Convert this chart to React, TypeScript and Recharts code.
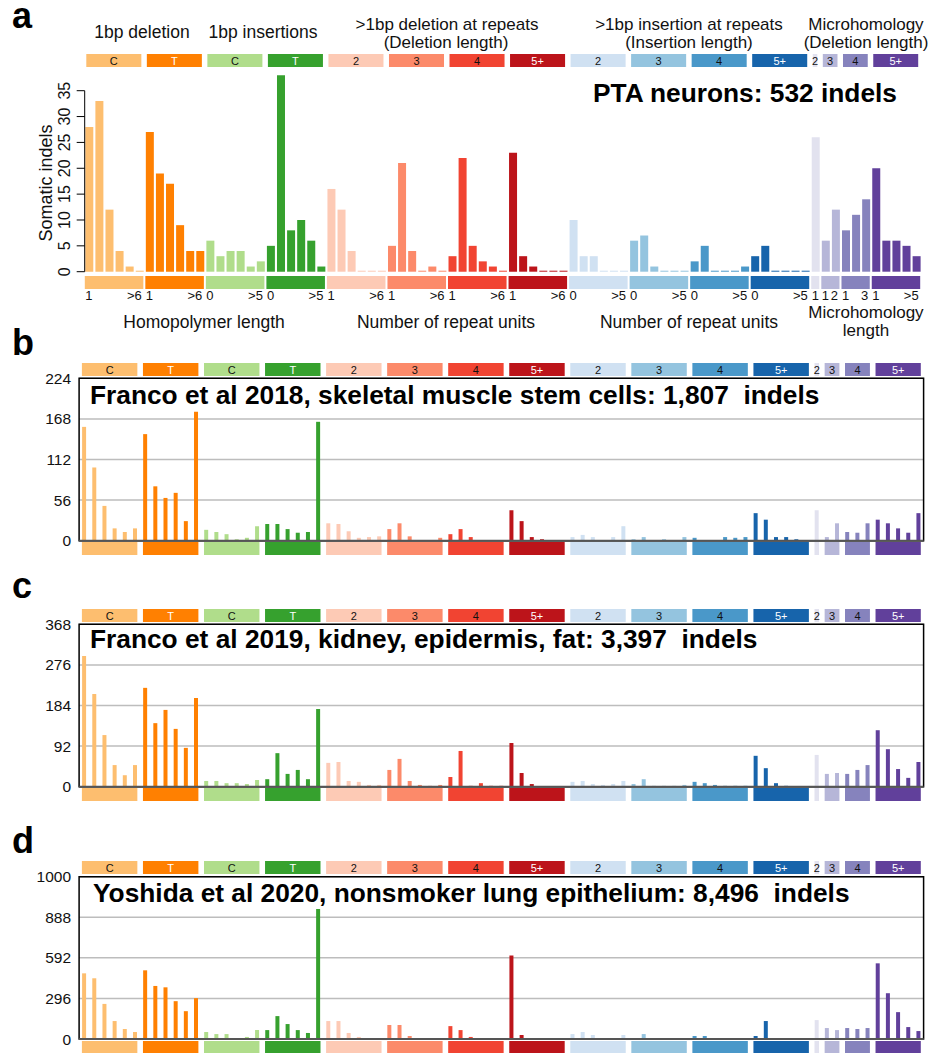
import React from "react";
import {
  BarChart,
  Bar,
  Cell,
  XAxis,
  YAxis,
  CartesianGrid,
  ReferenceLine,
  ReferenceArea
} from "recharts";

const FONT = '"Liberation Sans", Arial, Helvetica, sans-serif';

// ID83 channel groups: 1bp del C/T, 1bp ins C/T, del at repeats 2..5+, ins at repeats 2..5+, microhomology 2..5+
const groupLabels = ["C", "T", "C", "T", "2", "3", "4", "5+", "2", "3", "4", "5+", "2", "3", "4", "5+"];
const groupSizes = [6, 6, 6, 6, 6, 6, 6, 6, 6, 6, 6, 6, 1, 2, 3, 5];
const groupColors = [
  "#FDBE6F", "#FF8001", "#B0DD8B", "#36A12E",
  "#FDCAB5", "#FC8A6A", "#F14432", "#BC141A",
  "#D0E1F2", "#94C4DF", "#4A98C9", "#1764AB",
  "#E2E2EF", "#B6B6D8", "#8683BD", "#61409B"
];
const groupTextColors = [
  "#111", "#fff", "#111", "#fff",
  "#111", "#111", "#111", "#fff",
  "#111", "#111", "#111", "#fff",
  "#111", "#111", "#111", "#fff"
];
const firstTickLabels = ["1", "1", "0", "0", "1", "1", "1", "1", "0", "0", "0", "0", "1", "1", "1", "1"];
const lastTickLabels = [">6", ">6", ">5", ">5", ">6", ">6", ">6", ">6", ">5", ">5", ">5", ">5", "", "2", "3", ">5"];

// counts per channel (83)
const ptaNeurons = [
  28, 33, 12, 4, 1, 0, 27, 19, 17, 9, 4, 4,
  6, 3, 4, 4, 1, 2, 5, 38, 8, 10, 6, 1,
  16, 12, 4, 0, 0, 0, 5, 21, 4, 0, 1, 0, 3, 22, 5, 2, 1, 0, 23, 3, 1, 0, 0, 0,
  10, 3, 3, 0, 0, 0, 6, 7, 1, 0, 0, 0, 2, 5, 0, 0, 0, 1, 3, 5, 0, 0, 0, 0,
  26, 6, 12, 8, 11, 14, 20, 6, 6, 5, 3
];
const franco2018 = [
  157, 101, 48, 17, 12, 17, 147, 75, 59, 66, 27, 178,
  15, 12, 9, 2, 4, 20, 23, 23, 16, 11, 12, 164,
  24, 23, 13, 4, 5, 6, 16, 24, 6, 1, 1, 4, 9, 16, 5, 0, 0, 1, 42, 27, 5, 2, 0, 1,
  5, 8, 5, 1, 5, 20, 2, 5, 1, 2, 0, 5, 4, 1, 1, 5, 4, 5, 38, 29, 5, 5, 2, 0,
  42, 5, 24, 12, 11, 24, 29, 24, 17, 11, 38
];
const franco2019 = [
  296, 210, 117, 49, 26, 49, 224, 144, 174, 131, 88, 201,
  13, 13, 8, 8, 6, 15, 17, 76, 29, 38, 17, 176,
  54, 56, 13, 11, 4, 4, 38, 63, 13, 4, 2, 4, 22, 81, 2, 8, 2, 2, 99, 31, 6, 0, 0, 0,
  11, 13, 6, 4, 6, 13, 6, 17, 2, 2, 2, 4, 11, 8, 4, 2, 2, 2, 70, 42, 8, 2, 0, 0,
  72, 29, 31, 29, 38, 49, 128, 85, 40, 20, 56
];
const yoshida2020 = [
  479, 443, 256, 131, 73, 51, 501, 387, 377, 276, 203, 298,
  51, 36, 36, 7, 15, 65, 65, 167, 109, 65, 44, 948,
  131, 131, 44, 15, 7, 7, 102, 102, 22, 7, 7, 0, 94, 65, 15, 7, 7, 0, 610, 29, 7, 2, 0, 0,
  36, 51, 29, 7, 7, 29, 7, 36, 7, 7, 7, 7, 22, 22, 7, 7, 0, 7, 22, 131, 7, 0, 0, 0,
  138, 80, 65, 80, 73, 80, 552, 334, 196, 87, 58
];

const ticksA = [0, 5, 10, 15, 20, 25, 30, 35];
const ticksB = [0, 56, 112, 168, 224];
const ticksC = [0, 92, 184, 276, 368];
const ticksD = [0, 296, 592, 888, 1184];

const channelGroup: number[] = groupSizes.flatMap((n, g) => Array(n).fill(g));
const channelKeys = channelGroup.map((g, i) => `${g}:${i}`);
const groupStart = new Map<string, number>();
{
  let acc = 0;
  groupSizes.forEach((n, g) => {
    groupStart.set(channelKeys[acc], g);
    acc += n;
  });
}

type PanelCfg = {
  id: string;
  values: number[];
  chartTop: number;
  height: number;
  plotTop: number;
  plotBottom: number;
  left: number;
  right: number;
  domainMax: number;
  ticks: number[];
  barSize: number;
  stripTop: number;
  bottomStripTop: number;
  topInset: [number, number];
  bottomInset: [number, number];
};

const panels: PanelCfg[] = [
  {
    id: "a", values: ptaNeurons, chartTop: 0, height: 345,
    plotTop: 271.7 - (40 * 181) / 35, plotBottom: 271.7, left: 84.3, right: 921.7,
    domainMax: 40, ticks: ticksA, barSize: 8, stripTop: 54, bottomStripTop: 276,
    topInset: [2, 3.5], bottomInset: [0.5, 1.5]
  },
  {
    id: "b", values: franco2018, chartTop: 345, height: 220,
    plotTop: 378.3, plotBottom: 540.7, left: 79.1, right: 923.6,
    domainMax: 224, ticks: ticksB, barSize: 4, stripTop: 363, bottomStripTop: 542,
    topInset: [2.8, 2.8], bottomInset: [2.8, 2.8]
  },
  {
    id: "c", values: franco2019, chartTop: 590, height: 220,
    plotTop: 624.3, plotBottom: 786.7, left: 79.1, right: 923.6,
    domainMax: 368, ticks: ticksC, barSize: 4, stripTop: 609, bottomStripTop: 788,
    topInset: [2.8, 2.8], bottomInset: [2.8, 2.8]
  },
  {
    id: "d", values: yoshida2020, chartTop: 840, height: 213,
    plotTop: 876.7, plotBottom: 1039, left: 79.1, right: 923.6,
    domainMax: 1184, ticks: ticksD, barSize: 4, stripTop: 861, bottomStripTop: 1041,
    topInset: [2.8, 2.8], bottomInset: [2.8, 2.8]
  }
];

const AXIS_H = 10;

function Panel({ cfg }: { cfg: PanelCfg }) {
  const data = channelKeys.map((key, i) => ({ key, group: channelGroup[i], value: cfg.values[i] }));
  const slot = (cfg.right - cfg.left) / channelKeys.length;
  const unit = (cfg.plotBottom - cfg.plotTop) / cfg.domainMax;
  const isA = cfg.id === "a";
  const margin = {
    top: cfg.plotTop - cfg.chartTop - AXIS_H,
    bottom: cfg.chartTop + cfg.height - cfg.plotBottom - AXIS_H,
    left: 0,
    right: 935 - cfg.right
  };

  const topTick = (props: any) => {
    const gi = groupStart.get(props.payload.value);
    if (gi === undefined) return <g />;
    const x0 = props.x - slot / 2 + cfg.topInset[0];
    const w = groupSizes[gi] * slot - cfg.topInset[0] - cfg.topInset[1];
    const y = cfg.stripTop - cfg.chartTop;
    return (
      <g>
        <rect x={x0} y={y} width={w} height={13} fill={groupColors[gi]} />
        <text x={x0 + w / 2} y={y + 10.5} textAnchor="middle" fontSize={11} fontFamily={FONT} fill={groupTextColors[gi]}>
          {groupLabels[gi]}
        </text>
      </g>
    );
  };

  const bottomTick = (props: any) => {
    const gi = groupStart.get(props.payload.value);
    if (gi === undefined) return <g />;
    const start = props.x - slot / 2;
    const end = start + groupSizes[gi] * slot;
    const y = cfg.bottomStripTop - cfg.chartTop;
    const ly = 300 - cfg.chartTop;
    return (
      <g>
        <rect
          x={start + cfg.bottomInset[0]}
          y={y}
          width={end - start - cfg.bottomInset[0] - cfg.bottomInset[1]}
          height={13}
          fill={groupColors[gi]}
        />
        {isA && (
          <text x={start + 1} y={ly} fontSize={13} fontFamily={FONT} fill="#111">
            {firstTickLabels[gi]}
          </text>
        )}
        {isA && lastTickLabels[gi] && (
          <text x={end - 3} y={ly} textAnchor="end" fontSize={13} fontFamily={FONT} fill="#111">
            {lastTickLabels[gi]}
          </text>
        )}
      </g>
    );
  };

  // panel a: rotated labels, short ticks, axis line only up to the last tick
  const aTick = (props: any) => {
    const { y, payload } = props;
    const ax = cfg.left + 0.4;
    const top = cfg.ticks[cfg.ticks.length - 1];
    return (
      <g>
        <line x1={ax - 8} x2={ax} y1={y} y2={y} stroke="#000" strokeWidth={1} />
        {payload.value === 0 && (
          <line x1={ax} x2={ax} y1={y} y2={y - top * unit} stroke="#000" strokeWidth={1} />
        )}
        <text
          transform={`translate(${ax - 14.5},${y}) rotate(-90)`}
          textAnchor="middle"
          fontSize={16}
          fontFamily={FONT}
          fill="#111"
        >
          {payload.value}
        </text>
      </g>
    );
  };

  return (
    <div style={{ position: "absolute", left: 0, top: cfg.chartTop, width: 935, height: cfg.height }}>
      <BarChart width={935} height={cfg.height} data={data} margin={margin} barCategoryGap={0}>
        {!isA && <CartesianGrid vertical={false} stroke="#bdbdbd" strokeWidth={1.5} />}
        <XAxis dataKey="key" height={AXIS_H} axisLine={false} tickLine={false} interval={0} tick={bottomTick} />
        <XAxis
          xAxisId="top"
          orientation="top"
          dataKey="key"
          height={AXIS_H}
          axisLine={false}
          tickLine={false}
          interval={0}
          tick={topTick}
        />
        <YAxis
          width={cfg.left}
          domain={[0, cfg.domainMax]}
          ticks={cfg.ticks}
          interval={0}
          axisLine={false}
          tickLine={false}
          tick={isA ? aTick : { fontSize: 15.5, fill: "#111", fontFamily: FONT }}
          tickFormatter={(v: number) => (cfg.id === "d" && v === 1184 ? "1000" : String(v))}
        />
        <Bar dataKey="value" barSize={cfg.barSize} minPointSize={isA ? 1 : 0} isAnimationActive={false}>
          {data.map((d) => (
            <Cell key={d.key} fill={groupColors[d.group]} />
          ))}
        </Bar>
        {!isA && <ReferenceLine y={0} stroke="#555" strokeWidth={2} />}
        {!isA && (
          <ReferenceArea y1={0} y2={cfg.domainMax} fill="none" fillOpacity={0} stroke="#000" strokeWidth={1.5} />
        )}
      </BarChart>
    </div>
  );
}

export default function App() {
  const hdr = { fontSize: 17.5, fill: "#111", textAnchor: "middle" as const };
  const hdr2 = { fontSize: 17, fill: "#111", textAnchor: "middle" as const };
  const title = { fontSize: 26.3, fontWeight: 700, fill: "#000" };
  const letter = { fontSize: 36, fontWeight: 700, fill: "#000" };
  return (
    <div style={{ position: "relative", width: 935, height: 1053, background: "#fff", overflow: "hidden", fontFamily: FONT }}>
      <style>{"html,body{margin:0;padding:0;background:#fff}"}</style>
      {panels.map((p) => (
        <Panel key={p.id} cfg={p} />
      ))}
      <svg
        width={935}
        height={1053}
        style={{ position: "absolute", left: 0, top: 0, pointerEvents: "none" }}
        fontFamily={FONT}
      >
        <text x={12} y={28} {...letter}>a</text>
        <text x={12} y={355} {...letter}>b</text>
        <text x={12} y={598} {...letter}>c</text>
        <text x={12} y={853} {...letter}>d</text>

        <text x={142} y={37.5} {...hdr}>1bp deletion</text>
        <text x={263} y={37.5} {...hdr}>1bp insertions</text>
        <text x={447} y={29.5} {...hdr2}>&gt;1bp deletion at repeats</text>
        <text x={446} y={47.5} {...hdr2}>(Deletion length)</text>
        <text x={689} y={29.5} {...hdr2}>&gt;1bp insertion at repeats</text>
        <text x={689} y={47.5} {...hdr2}>(Insertion length)</text>
        <text x={866} y={29.5} {...hdr2}>Microhomology</text>
        <text x={866} y={47.5} {...hdr2}>(Deletion length)</text>

        <text x={593} y={101.7} {...title}>PTA neurons: 532 indels</text>

        <text transform="translate(51.7,183) rotate(-90)" fontSize={18} fill="#111" textAnchor="middle">
          Somatic indels
        </text>

        <text x={204} y={327.7} {...hdr}>Homopolymer length</text>
        <text x={446} y={327.7} {...hdr}>Number of repeat units</text>
        <text x={689} y={327.7} {...hdr}>Number of repeat units</text>
        <text x={866} y={318} {...hdr2}>Microhomology</text>
        <text x={866} y={335.5} {...hdr2}>length</text>

        <text x={90} y={404.3} {...title}>Franco et al 2018, skeletal muscle stem cells: 1,807{"\u00A0 "}indels</text>
        <text x={90} y={648.3} {...title}>Franco et al 2019, kidney, epidermis, fat: 3,397{"\u00A0 "}indels</text>
        <text x={93} y={901.7} {...title}>Yoshida et al 2020, nonsmoker lung epithelium: 8,496{"\u00A0 "}indels</text>
      </svg>
    </div>
  );
}
